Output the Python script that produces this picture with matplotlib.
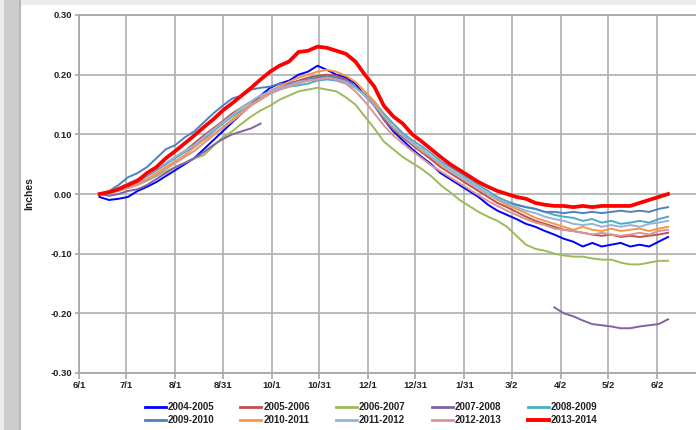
import matplotlib
matplotlib.use("Agg")
import matplotlib.pyplot as plt
import numpy as np
from matplotlib.patches import Rectangle

nan = np.nan

# days since 6/1, sampled every 6 days
days = np.arange(13, 374, 6)

tick_days = [0, 30, 61, 91, 122, 152, 183, 213, 244, 274, 305, 335, 366]
tick_labels = ['6/1', '7/1', '8/1', '8/31', '10/1', '10/31', '12/1',
               '12/31', '1/31', '3/2', '4/2', '5/2', '6/2']

s0405 = [-0.005, -0.010, -0.008, -0.005, 0.005, 0.012, 0.020, 0.030, 0.040, 0.050,
         0.060, 0.075, 0.090, 0.105, 0.120, 0.135, 0.150, 0.165, 0.178, 0.185,
         0.190, 0.200, 0.205, 0.215, 0.208, 0.200, 0.195, 0.185, 0.165, 0.150,
         0.125, 0.105, 0.090, 0.075, 0.062, 0.050, 0.035, 0.025, 0.015, 0.005,
         -0.005, -0.018, -0.028, -0.035, -0.042, -0.050, -0.055, -0.062, -0.068, -0.075,
         -0.080, -0.088, -0.082, -0.088, -0.085, -0.082, -0.088, -0.085, -0.088, -0.080,
         -0.072]
s0506 = [0.000, 0.003, 0.010, 0.015, 0.022, 0.030, 0.040, 0.050, 0.062, 0.072,
         0.085, 0.098, 0.110, 0.122, 0.135, 0.145, 0.155, 0.165, 0.172, 0.180,
         0.185, 0.190, 0.195, 0.198, 0.200, 0.198, 0.192, 0.180, 0.165, 0.148,
         0.125, 0.108, 0.095, 0.082, 0.070, 0.058, 0.045, 0.035, 0.025, 0.015,
         0.005, -0.005, -0.015, -0.022, -0.030, -0.038, -0.045, -0.050, -0.055, -0.060,
         -0.062, -0.065, -0.068, -0.070, -0.068, -0.072, -0.070, -0.072, -0.070, -0.068,
         -0.065]
s0607 = [0.000, 0.002, 0.005, 0.010, 0.015, 0.022, 0.030, 0.038, 0.045, 0.052,
         0.060, 0.065, 0.080, 0.095, 0.105, 0.118, 0.130, 0.140, 0.148, 0.158,
         0.165, 0.172, 0.175, 0.178, 0.175, 0.172, 0.162, 0.150, 0.130, 0.110,
         0.088, 0.075, 0.062, 0.052, 0.042, 0.030, 0.015, 0.003, -0.010, -0.020,
         -0.030, -0.038, -0.045, -0.055, -0.070, -0.085, -0.092, -0.095, -0.100, -0.103,
         -0.105, -0.105, -0.108, -0.110, -0.110, -0.115, -0.118, -0.118, -0.115, -0.112,
         -0.112]
s0708 = [0.000, -0.003, 0.000, 0.005, 0.008, 0.015, 0.025, 0.035, 0.045, 0.052,
         0.060, 0.070, 0.082, 0.092, 0.100, 0.105, 0.110, 0.118] + [nan] * 30 + \
        [-0.190, -0.200, -0.205, -0.212, -0.218, -0.220, -0.222, -0.225, -0.225, -0.222,
         -0.220, -0.218, -0.210]
s0809 = [0.000, 0.002, 0.008, 0.015, 0.020, 0.030, 0.040, 0.050, 0.060, 0.070,
         0.080, 0.092, 0.105, 0.118, 0.130, 0.140, 0.150, 0.160, 0.168, 0.175,
         0.180, 0.182, 0.185, 0.190, 0.192, 0.190, 0.185, 0.178, 0.168, 0.155,
         0.135, 0.118, 0.102, 0.090, 0.080, 0.068, 0.055, 0.045, 0.035, 0.025,
         0.015, 0.005, -0.005, -0.012, -0.018, -0.022, -0.025, -0.030, -0.035, -0.038,
         -0.040, -0.045, -0.042, -0.048, -0.045, -0.050, -0.048, -0.045, -0.048, -0.042,
         -0.038]
s0910 = [0.000, 0.005, 0.015, 0.028, 0.035, 0.045, 0.060, 0.075, 0.082, 0.095,
         0.105, 0.120, 0.135, 0.148, 0.160, 0.165, 0.175, 0.178, 0.180, 0.185,
         0.185, 0.188, 0.192, 0.195, 0.198, 0.195, 0.190, 0.180, 0.165, 0.150,
         0.128, 0.112, 0.098, 0.085, 0.075, 0.062, 0.050, 0.040, 0.030, 0.020,
         0.010, 0.000, -0.008, -0.015, -0.018, -0.022, -0.025, -0.030, -0.030, -0.032,
         -0.030, -0.032, -0.030, -0.032, -0.030, -0.028, -0.030, -0.028, -0.030, -0.025,
         -0.022]
s1011 = [0.000, 0.005, 0.008, 0.012, 0.018, 0.025, 0.035, 0.045, 0.055, 0.065,
         0.078, 0.090, 0.100, 0.112, 0.125, 0.138, 0.150, 0.160, 0.170, 0.180,
         0.188, 0.195, 0.200, 0.205, 0.208, 0.205, 0.198, 0.188, 0.172, 0.155,
         0.132, 0.112, 0.098, 0.085, 0.072, 0.062, 0.050, 0.040, 0.030, 0.020,
         0.010, 0.000, -0.010, -0.018, -0.025, -0.032, -0.040, -0.045, -0.050, -0.055,
         -0.060, -0.055, -0.060, -0.062, -0.058, -0.062, -0.060, -0.058, -0.062, -0.058,
         -0.055]
s1112 = [0.000, 0.005, 0.010, 0.018, 0.025, 0.032, 0.042, 0.052, 0.062, 0.072,
         0.082, 0.095, 0.108, 0.120, 0.132, 0.145, 0.155, 0.165, 0.172, 0.178,
         0.182, 0.188, 0.190, 0.192, 0.195, 0.192, 0.188, 0.178, 0.165, 0.150,
         0.130, 0.112, 0.098, 0.085, 0.075, 0.062, 0.052, 0.040, 0.030, 0.020,
         0.010, 0.000, -0.008, -0.015, -0.022, -0.028, -0.032, -0.038, -0.042, -0.045,
         -0.050, -0.052, -0.050, -0.055, -0.052, -0.055, -0.052, -0.055, -0.050, -0.048,
         -0.045]
s1213 = [0.000, 0.002, 0.006, 0.010, 0.016, 0.024, 0.032, 0.042, 0.052, 0.062,
         0.072, 0.085, 0.098, 0.110, 0.122, 0.135, 0.148, 0.158, 0.168, 0.175,
         0.180, 0.185, 0.190, 0.192, 0.195, 0.192, 0.185, 0.172, 0.155, 0.135,
         0.115, 0.098, 0.085, 0.072, 0.060, 0.048, 0.038, 0.028, 0.018, 0.008,
         -0.002, -0.012, -0.020, -0.028, -0.035, -0.042, -0.048, -0.052, -0.058, -0.060,
         -0.062, -0.065, -0.068, -0.065, -0.068, -0.070, -0.068, -0.065, -0.068, -0.062,
         -0.060]
s1314 = [0.000, 0.003, 0.008, 0.015, 0.022, 0.035, 0.045, 0.060, 0.072, 0.085,
         0.098, 0.112, 0.125, 0.140, 0.152, 0.165, 0.178, 0.192, 0.205, 0.215,
         0.222, 0.238, 0.240, 0.247, 0.245, 0.240, 0.235, 0.222, 0.200, 0.180,
         0.148, 0.130, 0.118, 0.100, 0.088, 0.075, 0.062, 0.050, 0.040, 0.030,
         0.020, 0.012, 0.005, 0.000, -0.005, -0.008, -0.015, -0.018, -0.020, -0.020,
         -0.022, -0.020, -0.022, -0.020, -0.020, -0.020, -0.020, -0.015, -0.010, -0.005,
         0.000]

seasons = ['2004-2005', '2005-2006', '2006-2007', '2007-2008', '2008-2009',
           '2009-2010', '2010-2011', '2011-2012', '2012-2013', '2013-2014']
series = [s0405, s0506, s0607, s0708, s0809, s0910, s1011, s1112, s1213, s1314]
colors = ['#0000ff', '#c0504d', '#9bbb59', '#8064a2', '#4bacc6',
          '#4f81bd', '#f79646', '#95b3d7', '#d99694', '#ff0000']

plt.rcParams['font.family'] = ['Liberation Sans', 'DejaVu Sans']

fig = plt.figure(figsize=(6.96, 4.30), dpi=100, facecolor='#ececec')
# white sheet with a grey shadow strip on the left
fig.patches.append(Rectangle((21/696, 0), 1, 1 - 5/430, transform=fig.transFigure,
                             facecolor='white', edgecolor='none', zorder=-5))
fig.patches.append(Rectangle((4/696, 0), 15/696, 1, transform=fig.transFigure,
                             facecolor='#cdcdcd', edgecolor='none', zorder=-5))
fig.patches.append(Rectangle((19/696, 0), 2/696, 1, transform=fig.transFigure,
                             facecolor='#b8b8b8', edgecolor='none', zorder=-5))

ax = fig.add_axes([79/696, 1 - 373/430, 617/696, 358/430])
ax.set_facecolor('white')

lines = []
for name, vals, c in zip(seasons, series, colors):
    lw = 2.7 if name == '2013-2014' else 1.4
    ln, = ax.plot(days, vals, color=c, lw=lw, label=name,
                  zorder=3 if name == '2013-2014' else 2)
    lines.append(ln)

ax.set_xlim(0, 390.7)
ax.set_ylim(-0.30, 0.30)
ax.set_xticks(tick_days)
ax.set_xticklabels(tick_labels)
ax.set_yticks(np.arange(-0.30, 0.31, 0.10))
ax.yaxis.set_major_formatter(matplotlib.ticker.FormatStrFormatter('%.2f'))
ax.grid(True, color='#b4b4b4', lw=1.3)
ax.set_axisbelow(True)

for side in ['left', 'bottom', 'top']:
    ax.spines[side].set_color('#a8a8a8')
    ax.spines[side].set_linewidth(1.3)
ax.spines['right'].set_visible(False)
ax.tick_params(axis='y', length=3, width=1.2, color='#a8a8a8', labelsize=6.8, pad=2,
               labelcolor='#222222')
ax.tick_params(axis='x', length=4, width=1.2, color='#a8a8a8', labelsize=6.8, pad=2,
               labelcolor='#222222')
for lab in ax.get_xticklabels() + ax.get_yticklabels():
    lab.set_fontweight('bold')

ax.set_ylabel('Inches', fontsize=7.5, fontweight='bold', color='#222222', labelpad=12)

# legend filled row by row: 5 columns, 2 rows
order = [0, 5, 1, 6, 2, 7, 3, 8, 4, 9]
leg = fig.legend([lines[i] for i in order], [seasons[i] for i in order],
                 loc='center', bbox_to_anchor=(0.533, 0.038), ncol=5, frameon=False,
                 prop={'size': 7, 'weight': 'bold'}, handlelength=2.15,
                 handletextpad=0.2, columnspacing=2.7, labelspacing=0.35)
for t in leg.get_texts():
    t.set_color('#222222')
for h in leg.legend_handles:
    h.set_linewidth(2.8 if h.get_color() == '#ff0000' else 2.0)

fig.savefig('out.png', dpi=100, facecolor=fig.get_facecolor())
